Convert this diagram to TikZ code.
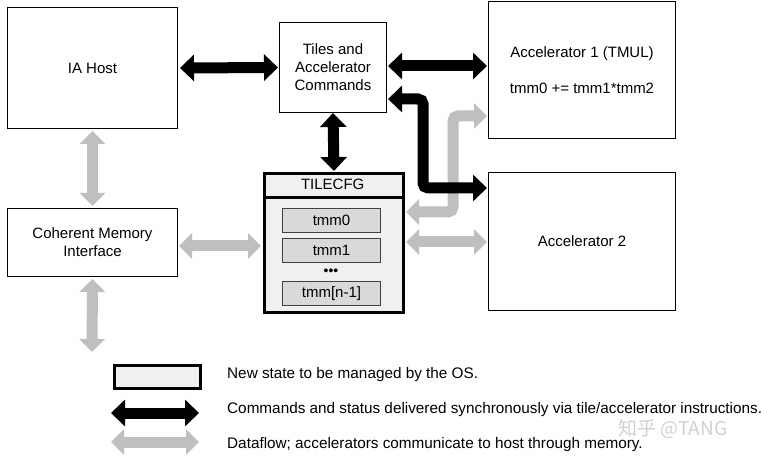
\documentclass[tikz,border=0pt]{standalone}
\usepackage{fontspec}
\setmainfont{Liberation Sans}
\newfontfamily\cjk{Noto Sans CJK SC}
\usetikzlibrary{arrows.meta,calc}
\definecolor{arrgray}{HTML}{BFBFBF}
\definecolor{statefill}{HTML}{F0F0F0}
\definecolor{regfill}{HTML}{D9D9D9}
\definecolor{regdraw}{HTML}{404040}
\begin{document}
\begin{tikzpicture}[x=1pt,y=-1pt,
  font=\fontsize{15}{18}\selectfont,
  box/.style={draw=black, line width=1pt, fill=white, inner sep=0pt, anchor=north west, align=center},
  statebox/.style={draw=black, line width=3pt, fill=statefill, inner sep=0pt, anchor=north west},
  regbox/.style={draw=regdraw, line width=1pt, fill=regfill, inner sep=0pt, anchor=north west, minimum width=98pt, minimum height=24pt},
  blk/.style={draw=black, line width=11pt, arrows={Triangle[width=26pt,length=14pt]-Triangle[width=26pt,length=14pt]}},
  gry/.style={draw=arrgray, line width=11pt, arrows={Triangle[width=25pt,length=13pt]-Triangle[width=25pt,length=13pt]}},
  legtext/.style={anchor=west, inner sep=0pt, font=\fontsize{15.3}{18}\selectfont}]
\useasboundingbox (0,0) rectangle (772,457);
\fill[white] (0,0) rectangle (772,457);

% main boxes
\node[box, minimum width=170pt, minimum height=121pt] (host) at (7,7) {IA Host};
\node[box, minimum width=107pt, minimum height=90pt] (tiles) at (279,22) {Tiles and\\Accelerator\\Commands};
\node[box, minimum width=187pt, minimum height=137pt] (acc1) at (488,1) {Accelerator 1 (TMUL)\\[18pt]tmm0 += tmm1*tmm2};
\node[box, minimum width=187pt, minimum height=138pt] (acc2) at (488,172) {Accelerator 2};
\node[box, minimum width=170pt, minimum height=68pt] (cmi) at (7,208) {Coherent Memory\\Interface};

% TILECFG state block
\node[statebox, minimum width=139pt, minimum height=139pt] (cfg) at (263,172) {};
\node[inner sep=0pt, minimum width=139pt, minimum height=25pt, anchor=north west] (cfghead) at (263,172) {TILECFG};
\draw[line width=2.5pt] (cfghead.south west) -- (cfghead.south east);
\node[regbox] (tmm0) at (282,208) {tmm0};
\node[regbox] (tmm1) at (282,238) {tmm1};
\node[inner sep=0pt, font=\fontsize{14}{14}\selectfont] (dots) at (331,272) {•••};
\node[regbox] (tmmn) at (282,281) {tmm[n-1]};

% helper coordinates
\coordinate (memout) at (92,352);
\coordinate (cmiR) at (177,246);
\coordinate (gbendA) at (453,116);
\coordinate (gbendB) at (453,212);
\coordinate (gstr) at (488,242);
\coordinate (tilesR) at (386,66);
\coordinate (bbendA) at (423,99);
\coordinate (bbendB) at (423,188);

% gray dataflow arrows
\draw[gry, shorten <=2pt, shorten >=2pt] (host.south) -- (cmi.north);
\draw[gry, shorten <=2pt] (cmi.south) -- (memout);
\draw[gry, shorten <=2pt, shorten >=2pt] (cmiR) -- (cmiR -| cfg.west);
\draw[gry, rounded corners=5pt, shorten <=1pt, shorten >=1pt] (gbendA -| acc1.west) -- (gbendA) -- (gbendB) -- (gbendB -| cfg.east);
\draw[gry, shorten <=1pt, shorten >=1pt] (gstr -| cfg.east) -- (gstr -| acc2.west);

% black command arrows
\draw[blk, shorten <=2pt, shorten >=1pt] (host.east) -- (tiles.west);
\draw[blk, shorten >=1pt] (tiles.south) -- (cfg.north);
\draw[blk, shorten <=1pt, shorten >=1pt] (tilesR -| tiles.east) -- (tilesR -| acc1.west);
\draw[blk, rounded corners=5pt, shorten <=1pt, shorten >=1pt] (bbendA -| tiles.east) -- (bbendA) -- (bbendB) -- (bbendB -| acc2.west);

% legend
\node[statebox, minimum width=86pt, minimum height=23pt] (legbox) at (113,364) {};
\coordinate (lbA) at (111,413);
\coordinate (lbB) at (199,413);
\coordinate (lgA) at (111,442);
\coordinate (lgB) at (199,442);
\draw[blk] (lbA) -- (lbB);
\draw[gry] (lgA) -- (lgB);
\node[legtext] (legt1) at (227,375) {New state to be managed by the OS.};
\node[legtext] (legt2) at (227,410) {Commands and status delivered synchronously via tile/accelerator instructions.};
\node[legtext] (legt3) at (227,445) {Dataflow; accelerators communicate to host through memory.};

% watermark
\node[anchor=west, inner sep=0pt, text=black!18, font=\cjk\fontsize{19}{19}\selectfont] (wm) at (618,429) {知乎 @TANG};
\end{tikzpicture}
\end{document}
